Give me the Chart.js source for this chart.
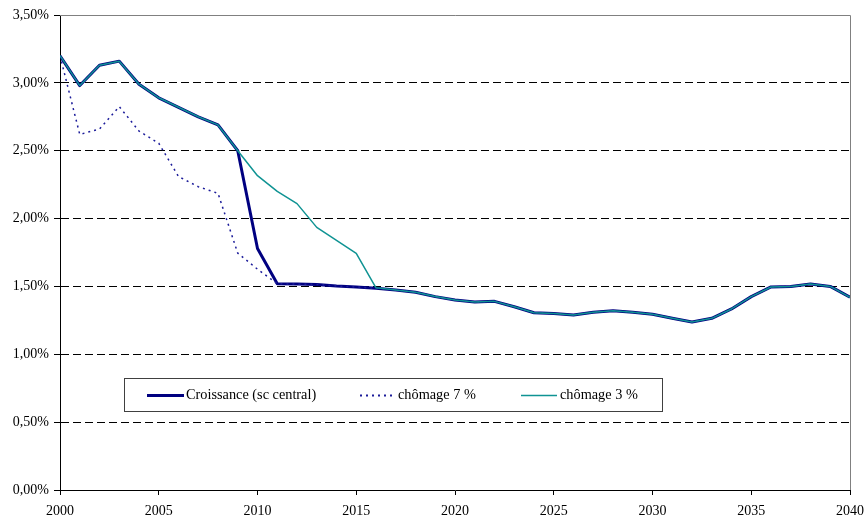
<!DOCTYPE html>
<html>
<head>
<meta charset="utf-8">
<script src="https://cdn.jsdelivr.net/npm/chart.js@4/dist/chart.umd.min.js"></script>
<style>
  html, body { margin: 0; padding: 0; background: #fff; }
  #wrap { width: 867px; height: 520px; }
</style>
</head>
<body>
<div id="wrap"><canvas id="c" width="867" height="520"></canvas></div>
<script>
const years = [2000,2001,2002,2003,2004,2005,2006,2007,2008,2009,2010,
  2011,2012,2013,2014,2015,2016,2017,2018,2019,2020,
  2021,2022,2023,2024,2025,2026,2027,2028,2029,2030,
  2031,2032,2033,2034,2035,2036,2037,2038,2039,2040];

const croissance = [3.20,2.98,3.13,3.16,2.99,2.89,2.82,2.75,2.69,2.50,1.78,
  1.52,1.517,1.515,1.503,1.496,1.486,1.474,1.457,1.425,1.40,
  1.385,1.39,1.35,1.306,1.30,1.29,1.31,1.32,1.31,1.295,
  1.265,1.238,1.265,1.334,1.425,1.496,1.50,1.518,1.50,1.42];

const chomage7 = [3.20,2.62,2.66,2.825,2.645,2.555,2.31,2.235,2.186,1.745,1.627,
  1.52,1.517,1.515,1.503,1.496,1.486,1.474,1.457,1.425,1.40,
  1.385,1.39,1.35,1.306,1.30,1.29,1.31,1.32,1.31,1.295,
  1.265,1.238,1.265,1.334,1.425,1.496,1.50,1.518,1.50,1.42];

const chomage3 = [3.20,2.98,3.13,3.16,2.99,2.89,2.82,2.75,2.69,2.50,2.316,
  2.20,2.11,1.935,1.84,1.744,1.49,1.474,1.457,1.425,1.40,
  1.385,1.39,1.35,1.306,1.30,1.29,1.31,1.32,1.31,1.295,
  1.265,1.238,1.265,1.334,1.425,1.496,1.50,1.518,1.50,1.42];

const seriesLabels = ["Croissance (sc central)", "chômage 7 %", "chômage 3 %"];
const xTickValues = [2000,2005,2010,2015,2020,2025,2030,2035,2040];
const yTickValues = [0,0.5,1,1.5,2,2.5,3,3.5];

const FONT = "'Liberation Serif', 'Times New Roman', serif";

function pts(arr) { return years.map((y, i) => ({x: y, y: arr[i]})); }

const frameAndLegend = {
  id: 'frameAndLegend',
  beforeDatasetsDraw(chart) {
    const {ctx, chartArea: a} = chart;
    ctx.save();
    ctx.strokeStyle = '#808080';
    ctx.lineWidth = 1;
    ctx.beginPath();
    ctx.moveTo(a.left, a.top + 0.5);
    ctx.lineTo(a.right + 0.5, a.top + 0.5);
    ctx.lineTo(a.right + 0.5, a.bottom);
    ctx.stroke();
    ctx.restore();
  },
  afterDatasetsDraw(chart) {
    const ctx = chart.ctx;
    const box = {x: 124.5, y: 378.5, w: 538, h: 33};
    ctx.save();
    ctx.fillStyle = '#fff';
    ctx.fillRect(box.x, box.y, box.w, box.h);
    ctx.strokeStyle = '#404040';
    ctx.lineWidth = 1;
    ctx.strokeRect(box.x, box.y, box.w, box.h);
    const items = [
      {x0: 147, x1: 184, tx: 186},
      {x0: 360, x1: 396, tx: 398},
      {x0: 521, x1: 557, tx: 560}
    ];
    const cy = 395.5;
    chart.data.datasets.forEach((ds, i) => {
      const it = items[i];
      ctx.beginPath();
      ctx.strokeStyle = ds.borderColor;
      ctx.lineWidth = i === 0 ? 3 : (i === 1 ? 2 : 1.5);
      ctx.setLineDash(ds.borderDash || []);
      ctx.moveTo(it.x0, cy);
      ctx.lineTo(it.x1, cy);
      ctx.stroke();
      ctx.setLineDash([]);
      ctx.fillStyle = '#000';
      ctx.font = '14.3px ' + FONT;
      ctx.textBaseline = 'middle';
      ctx.textAlign = 'left';
      ctx.fillText(ds.label, it.tx, cy);
    });
    ctx.restore();
  }
};

new Chart(document.getElementById('c'), {
  type: 'line',
  data: {
    datasets: [
      {label: seriesLabels[0], data: pts(croissance), borderColor: '#000080', borderWidth: 3, order: 3},
      {label: seriesLabels[1], data: pts(chomage7), borderColor: '#1c1c9a', borderWidth: 1.5, borderDash: [2, 4], order: 2},
      {label: seriesLabels[2], data: pts(chomage3), borderColor: '#0f9393', borderWidth: 1.5, order: 1}
    ]
  },
  options: {
    responsive: false,
    animation: false,
    layout: {padding: {top: 15, right: 17, left: 0, bottom: 0}},
    elements: {point: {radius: 0}, line: {tension: 0, borderJoinStyle: 'round'}},
    plugins: {legend: {display: false}, tooltip: {enabled: false}},
    scales: {
      x: {
        type: 'linear',
        min: 2000, max: 2040,
        afterFit(s) { s.height = 30; s.paddingLeft = 0; s.paddingRight = 0; },
        afterBuildTicks(s) { s.ticks = xTickValues.map(v => ({value: v})); },
        ticks: {
          color: '#000', font: {family: FONT, size: 14}, padding: 8,
          maxRotation: 0, autoSkip: false,
          callback: v => String(v)
        },
        grid: {drawOnChartArea: false, drawTicks: true, tickLength: 5, tickColor: '#000'},
        border: {display: true, color: '#000', width: 1}
      },
      y: {
        min: 0, max: 3.5,
        afterFit(s) { s.width = 60; s.paddingTop = 0; s.paddingBottom = 0; },
        afterBuildTicks(s) { s.ticks = yTickValues.map(v => ({value: v})); },
        ticks: {
          color: '#000', font: {family: FONT, size: 14}, padding: 5,
          callback: v => v.toFixed(2).replace('.', ',') + '%'
        },
        grid: {
          color: c => (c.tick && c.tick.value > 0 && c.tick.value < 3.5) ? '#000' : 'rgba(0,0,0,0)',
          lineWidth: 1,
          drawTicks: true, tickLength: 6, tickColor: '#000', tickBorderDash: []
        },
        border: {display: true, color: '#000', width: 1, dash: [8, 4]}
      }
    }
  },
  plugins: [frameAndLegend]
});
</script>
</body>
</html>
